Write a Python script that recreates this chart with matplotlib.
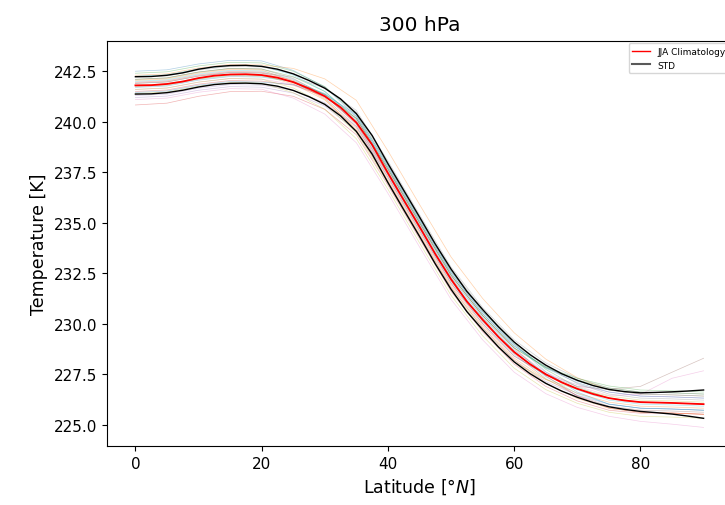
import matplotlib
matplotlib.use("Agg")
import matplotlib.pyplot as plt
from matplotlib.lines import Line2D
import numpy as np

# Latitude grids
lat_members = [0, 5, 10, 15, 20, 25, 30, 35, 40, 45, 50, 55, 60, 65, 70, 75, 80, 85, 90]
lat_clim = [0, 2.5, 5, 7.5, 10, 12.5, 15, 17.5, 20, 22.5, 25, 27.5, 30, 32.5, 35, 37.5,
            40, 42.5, 45, 47.5, 50, 52.5, 55, 57.5, 60, 62.5, 65, 67.5, 70, 72.5, 75,
            77.5, 80, 82.5, 85, 87.5, 90]

# JJA climatology (K) and standard deviation (K)
clim = [241.79, 241.80, 241.86, 241.98, 242.15, 242.27, 242.33, 242.34, 242.30, 242.17,
        241.95, 241.63, 241.25, 240.70, 239.95, 238.85, 237.45, 236.12, 234.80, 233.45,
        232.20, 231.10, 230.20, 229.35, 228.60, 228.00, 227.50, 227.10, 226.78, 226.52,
        226.32, 226.20, 226.12, 226.10, 226.08, 226.05, 226.02]
std = [0.43, 0.43, 0.43, 0.43, 0.44, 0.44, 0.44, 0.44, 0.43, 0.42, 0.41, 0.40, 0.40,
       0.42, 0.44, 0.46, 0.47, 0.48, 0.48, 0.49, 0.50, 0.50, 0.50, 0.50, 0.49, 0.47,
       0.45, 0.43, 0.42, 0.42, 0.43, 0.44, 0.46, 0.50, 0.55, 0.62, 0.70]

# Individual JJA seasons (K)
y01 = [242.49, 242.56, 242.85, 243.03, 243.00, 242.53, 241.71, 240.25, 237.75, 235.10, 232.50, 230.50, 228.90, 227.80, 227.08, 226.62, 226.42, 226.38, 226.32]
y02 = [242.29, 242.36, 242.65, 242.83, 242.80, 242.63, 242.11, 241.05, 238.55, 235.90, 233.30, 231.25, 229.55, 228.25, 227.33, 226.72, 226.52, 226.48, 226.42]
y03 = [242.09, 242.16, 242.45, 242.63, 242.60, 242.22, 241.49, 240.15, 237.65, 235.00, 232.40, 230.40, 228.80, 227.82, 227.22, 226.82, 226.62, 226.58, 226.52]
y04 = [240.82, 240.91, 241.25, 241.48, 241.50, 241.25, 240.60, 239.35, 236.85, 234.20, 231.60, 229.60, 228.00, 226.90, 226.18, 225.72, 225.57, 225.58, 225.52]
y05 = [241.19, 241.26, 241.55, 241.73, 241.70, 241.41, 240.77, 239.55, 237.05, 234.40, 231.80, 229.80, 228.20, 227.14, 226.46, 226.02, 225.82, 225.78, 225.72]
y06 = [241.89, 241.96, 242.25, 242.43, 242.40, 241.96, 241.17, 239.75, 237.25, 234.60, 232.00, 230.00, 228.40, 227.45, 226.90, 226.75, 226.90, 227.60, 228.29]
y07 = [241.59, 241.66, 241.95, 242.13, 242.10, 241.84, 241.23, 240.05, 237.55, 234.90, 232.30, 230.30, 228.70, 227.60, 226.90, 226.45, 226.50, 227.30, 227.67]
y08 = [242.19, 242.26, 242.55, 242.73, 242.70, 242.38, 241.71, 240.45, 237.95, 235.30, 232.70, 230.70, 229.10, 227.88, 227.04, 226.52, 226.32, 226.28, 226.22]
y09 = [241.39, 241.46, 241.75, 241.93, 241.90, 241.43, 240.61, 239.15, 236.65, 234.00, 231.40, 229.40, 227.80, 226.74, 226.06, 225.62, 225.42, 225.38, 225.32]
y10 = [241.99, 242.06, 242.35, 242.53, 242.50, 242.09, 241.33, 239.95, 237.45, 234.80, 232.20, 230.20, 228.60, 227.38, 226.54, 226.02, 225.82, 225.78, 225.72]
y11 = [241.69, 241.76, 242.05, 242.23, 242.20, 241.97, 241.39, 240.25, 237.75, 235.10, 232.50, 230.50, 228.90, 227.84, 227.16, 226.72, 226.52, 226.48, 226.42]
y12 = [241.79, 241.86, 242.15, 242.33, 242.30, 241.86, 241.07, 239.65, 237.15, 234.50, 231.90, 229.90, 228.30, 227.24, 226.56, 226.12, 225.92, 225.88, 225.82]
y13 = [242.39, 242.46, 242.75, 242.93, 242.90, 242.49, 241.73, 240.35, 237.85, 235.20, 232.60, 230.60, 229.00, 227.74, 226.86, 226.32, 226.12, 226.08, 226.02]
y14 = [241.49, 241.56, 241.85, 242.03, 242.00, 241.80, 241.25, 240.15, 237.65, 235.00, 232.40, 230.40, 228.80, 227.42, 226.42, 225.82, 225.62, 225.58, 225.52]
y15 = [241.29, 241.36, 241.65, 241.83, 241.80, 241.54, 240.93, 239.75, 237.25, 234.60, 232.00, 230.00, 228.40, 227.50, 226.98, 226.62, 226.42, 226.38, 226.32]
y16 = [242.09, 242.16, 242.45, 242.63, 242.60, 242.13, 241.31, 239.85, 237.35, 234.70, 232.10, 230.10, 228.50, 227.28, 226.44, 225.92, 225.72, 225.68, 225.62]
y17 = [241.09, 241.16, 241.45, 241.63, 241.60, 241.16, 240.37, 238.95, 236.45, 233.80, 231.20, 229.20, 227.60, 226.54, 225.86, 225.42, 225.17, 225.03, 224.87]
y18 = [241.89, 241.96, 242.25, 242.43, 242.40, 242.20, 241.65, 240.55, 238.05, 235.40, 232.80, 230.80, 229.20, 228.06, 227.30, 226.82, 226.62, 226.58, 226.52]
y19 = [241.59, 241.66, 241.95, 242.13, 242.10, 241.66, 240.87, 239.45, 236.95, 234.30, 231.70, 229.70, 228.10, 227.24, 226.76, 226.42, 226.22, 226.18, 226.12]
y20 = [242.24, 242.31, 242.60, 242.78, 242.75, 242.30, 241.49, 240.05, 237.55, 234.90, 232.30, 230.30, 228.70, 227.52, 226.72, 226.22, 226.02, 225.98, 225.92]
y21 = [241.44, 241.51, 241.80, 241.98, 241.95, 241.83, 241.35, 240.35, 237.85, 235.20, 232.60, 230.60, 229.00, 227.62, 226.62, 226.02, 225.82, 225.78, 225.72]
y22 = [242.04, 242.11, 242.40, 242.58, 242.55, 242.00, 241.11, 239.55, 237.05, 234.40, 231.80, 229.80, 228.20, 227.06, 226.30, 225.82, 225.62, 225.58, 225.52]
y23 = [241.74, 241.81, 242.10, 242.28, 242.25, 241.98, 241.35, 240.15, 237.65, 235.00, 232.40, 230.40, 228.80, 227.86, 227.30, 226.92, 226.72, 226.68, 226.62]
y24 = [241.94, 242.01, 242.30, 242.48, 242.45, 242.04, 241.28, 239.90, 237.40, 234.75, 232.15, 230.15, 228.55, 227.47, 226.77, 226.32, 226.12, 226.08, 226.02]
members = [y01, y02, y03, y04, y05, y06, y07, y08, y09, y10, y11, y12,
           y13, y14, y15, y16, y17, y18, y19, y20, y21, y22, y23, y24]

title = "300 hPa"
xlabel = r"Latitude [$\degree N$]"
ylabel = "Temperature [K]"
legend_labels = ["JJA Climatology", "STD"]

fig = plt.figure(figsize=(7.25, 5.06), dpi=100)
ax = fig.add_axes([107 / 725, 59 / 506, 625 / 725, 405.3 / 506])

for m in members:
    ax.plot(lat_members, m, lw=0.5, alpha=0.35, zorder=1)

clim_a = np.array(clim)
std_a = np.array(std)
ax.plot(lat_clim, clim_a, color="red", lw=1.3, zorder=3)
ax.plot(lat_clim, clim_a + std_a, color="black", lw=1.0, zorder=2)
ax.plot(lat_clim, clim_a - std_a, color="black", lw=1.0, zorder=2)

ax.set_xlim(-4.5, 94.5)
ax.set_ylim(223.95, 244.0)
ax.set_xticks([0, 20, 40, 60, 80])
ax.set_yticks(np.arange(225.0, 243.0, 2.5))
ax.set_yticklabels([f"{v:.1f}" for v in np.arange(225.0, 243.0, 2.5)])
ax.tick_params(labelsize=11)
ax.set_title(title, fontsize=14.5, pad=8)
ax.set_xlabel(xlabel, fontsize=12.5)
ax.set_ylabel(ylabel, fontsize=12.5)

handles = [Line2D([], [], color="red", lw=1.0),
           Line2D([], [], color="0.35", lw=1.5)]
ax.legend(handles, legend_labels, loc="upper right", fontsize=6.5,
          borderaxespad=0.3)

fig.savefig("out.png", dpi=100)
